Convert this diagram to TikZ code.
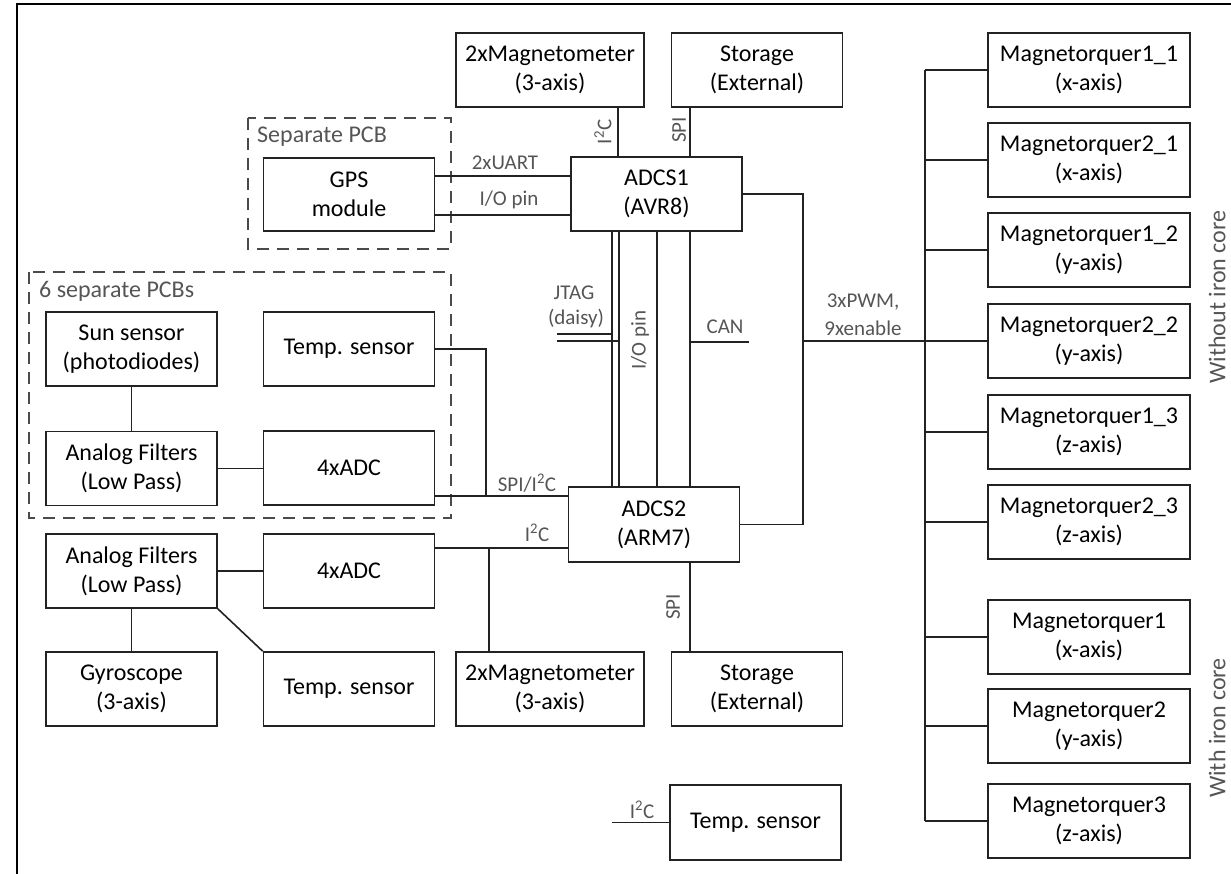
\documentclass[tikz,border=0pt]{standalone}
\usepackage{fontspec}
\setmainfont{Carlito}
\usetikzlibrary{calc}
\definecolor{linec}{HTML}{222222}
\definecolor{labc}{HTML}{555555}
\definecolor{dashc}{HTML}{4A4A4A}
\tikzset{
 blk/.style={draw=linec, line width=1.6pt, inner sep=0pt, align=center, text=black,
   font=\fontsize{24}{29}\selectfont, minimum width=171pt, minimum height=74pt},
 wideblk/.style={minimum width=188pt},
 mtq/.style={minimum width=202pt},
 conn/.style={draw=linec, line width=1.6pt},
 lab/.style={text=labc, font=\fontsize{21}{25}\selectfont, inner sep=0pt},
 sidelab/.style={text=labc, font=\fontsize{24}{28}\selectfont, inner sep=0pt, rotate=90},
 pcb/.style={draw=dashc, line width=1.5pt, dash pattern=on 12pt off 8pt},
 pcbt/.style={text=labc, font=\fontsize{24}{28}\selectfont, inner sep=0pt, anchor=west},
}
\begin{document}
\begin{tikzpicture}[x=1pt,y=-1pt]
\useasboundingbox (0,0) rectangle (1231,874);
% frame
\coordinate (fbl) at (17,874);
\coordinate (ftl) at (17,4);
\coordinate (ftr) at (1231,4);
\draw[line width=2.2pt, black] (fbl) -- (ftl) -- (ftr);

% dashed PCB groups
\draw[pcb] (248,118) rectangle (451,249);
\node[pcbt] (pcb1) at (257,137) {Separate PCB};
\draw[pcb] (29,272) rectangle (451,518);
\node[pcbt] (pcb6) at (39,291) {6 separate PCBs};

% blocks
\node[blk, wideblk] (mag1) at (550,70) {2xMagnetometer\\(3-axis)};
\node[blk] (stor1) at (757,70) {Storage\\(External)};
\node[blk] (adcs1) at (656.5,194) {ADCS1\\(AVR8)};
\node[blk, minimum height=73pt] (gps) at (349,194.5) {GPS\\module};
\node[blk] (sun) at (131.5,349) {Sun sensor\\(photodiodes)};
\node[blk] (temp1) at (349,349) {Temp. sensor};
\node[blk] (af1) at (131.5,468.5) {Analog Filters\\(Low Pass)};
\node[blk] (adc1) at (349,468) {4xADC};
\node[blk, minimum height=75pt] (adcs2) at (654,524.5) {ADCS2\\(ARM7)};
\node[blk] (af2) at (131.5,571) {Analog Filters\\(Low Pass)};
\node[blk] (adc2) at (349,571) {4xADC};
\node[blk] (gyro) at (131.5,689) {Gyroscope\\(3-axis)};
\node[blk] (temp2) at (349,689) {Temp. sensor};
\node[blk, wideblk] (mag2) at (550,689) {2xMagnetometer\\(3-axis)};
\node[blk] (stor2) at (757,689) {Storage\\(External)};
\node[blk, minimum height=75pt] (temp3) at (755.5,822.5) {Temp. sensor};

% magnetorquers
\node[blk, mtq] (mt1) at (1089,70) {Magnetorquer1\_1\\(x-axis)};
\node[blk, mtq] (mt2) at (1089,160) {Magnetorquer2\_1\\(x-axis)};
\node[blk, mtq] (mt3) at (1089,250) {Magnetorquer1\_2\\(y-axis)};
\node[blk, mtq] (mt4) at (1089,341) {Magnetorquer2\_2\\(y-axis)};
\node[blk, mtq] (mt5) at (1089,432) {Magnetorquer1\_3\\(z-axis)};
\node[blk, mtq] (mt6) at (1089,522) {Magnetorquer2\_3\\(z-axis)};
\node[blk, mtq] (mt7) at (1089,637) {Magnetorquer1\\(x-axis)};
\node[blk, mtq] (mt8) at (1089,726) {Magnetorquer2\\(y-axis)};
\node[blk, mtq] (mt9) at (1089,821) {Magnetorquer3\\(z-axis)};

\node[sidelab] (wo) at (1217,297) {Without iron core};
\node[sidelab] (wi) at (1217,728) {With iron core};

% helper coordinates
\coordinate (xi) at (618,0);
\coordinate (xs) at (690,0);
\coordinate (yu) at (0,176);
\coordinate (yio) at (0,215);
\coordinate (xj1) at (612,0);
\coordinate (xj2) at (619,0);
\coordinate (js1) at (557,334);
\coordinate (js2) at (557,341);
\coordinate (xio) at (657,0);
\coordinate (canend) at (749,342);
\coordinate (loopx) at (803,0);
\coordinate (bus) at (925,0);
\coordinate (tx) at (486,0);
\coordinate (ysp) at (0,496);
\coordinate (yi2) at (0,548);
\coordinate (mx) at (489,0);
\coordinate (t3s) at (612,822.5);

% ADCS1 connections
\draw[conn] (xi |- mag1.south) -- (xi |- adcs1.north);
\node[lab, rotate=90] (li2c1) at (603,132) {I\textsuperscript{2}C};
\draw[conn] (xs |- stor1.south) -- (xs |- adcs1.north);
\node[lab, rotate=90] (lspi1) at (679,130) {SPI};
\draw[conn] (gps.east |- yu) -- (adcs1.west |- yu);
\draw[conn] (gps.east |- yio) -- (adcs1.west |- yio);
\node[lab] (luart) at (505,163) {2xUART};
\node[lab] (lio) at (509,200) {I/O pin};

% ADCS1 - ADCS2
\draw[conn] (xj1 |- adcs1.south) -- (xj1 |- adcs2.north);
\draw[conn] (xj2 |- adcs1.south) -- (xj2 |- adcs2.north);
\draw[conn] (js1) -- (js1 -| xj1);
\draw[conn] (js2) -- (js2 -| xj2);
\node[lab] (ljtag) at (574,293) {JTAG};
\node[lab] (ldaisy) at (576,319) {(daisy)};
\draw[conn] (xio |- adcs1.south) -- (xio |- adcs2.north);
\node[lab, rotate=90] (liop) at (640,340) {I/O pin};
\draw[conn] (xs |- adcs1.south) -- (xs |- adcs2.north);
\draw[conn] (canend -| xs) -- (canend);
\node[lab] (lcan) at (725,327) {CAN};

% loop and PWM bus
\draw[conn] (adcs1.east) -- (loopx |- adcs1.east) -- (loopx |- adcs2.east) -- (adcs2.east);
\draw[conn] (loopx |- mt4.west) -- (bus |- mt4.west);
\node[lab] (lpwm) at (863,302) {3xPWM,};
\node[lab] (lena) at (863,328) {9xenable};
\draw[conn] (bus |- mt1.west) -- (bus |- mt9.west);
\foreach \m in {mt1,mt2,mt3,mt4,mt5,mt6,mt7,mt8,mt9}
  \draw[conn] (bus |- \m.west) -- (\m.west);

% sensors to ADCS2
\draw[conn] (temp1.east) -- (tx |- temp1.east) -- (tx |- ysp);
\draw[conn] (adc1.east |- ysp) -- (adcs2.west |- ysp);
\node[lab] (lspii2c) at (527,483) {SPI/I\textsuperscript{2}C};
\draw[conn] (sun) -- (af1);
\draw[conn] (af1.east) -- (af1.east -| adc1.west);
\draw[conn] (adc2.east |- yi2) -- (adcs2.west |- yi2);
\draw[conn] (mx |- yi2) -- (mx |- mag2.north);
\node[lab] (li2c2) at (537,533) {I\textsuperscript{2}C};
\draw[conn] (af2.east) -- (af2.east -| adc2.west);
\draw[conn] (af2) -- (gyro);
\draw[conn] (af2.south east) -- (temp2.north west);

% ADCS2 storage, temp3
\draw[conn] (xs |- adcs2.south) -- (xs |- stor2.north);
\node[lab, rotate=90] (lspi2) at (673,607) {SPI};
\draw[conn] (t3s) -- (temp3.west);
\node[lab] (li2c3) at (642,810) {I\textsuperscript{2}C};
\end{tikzpicture}
\end{document}
